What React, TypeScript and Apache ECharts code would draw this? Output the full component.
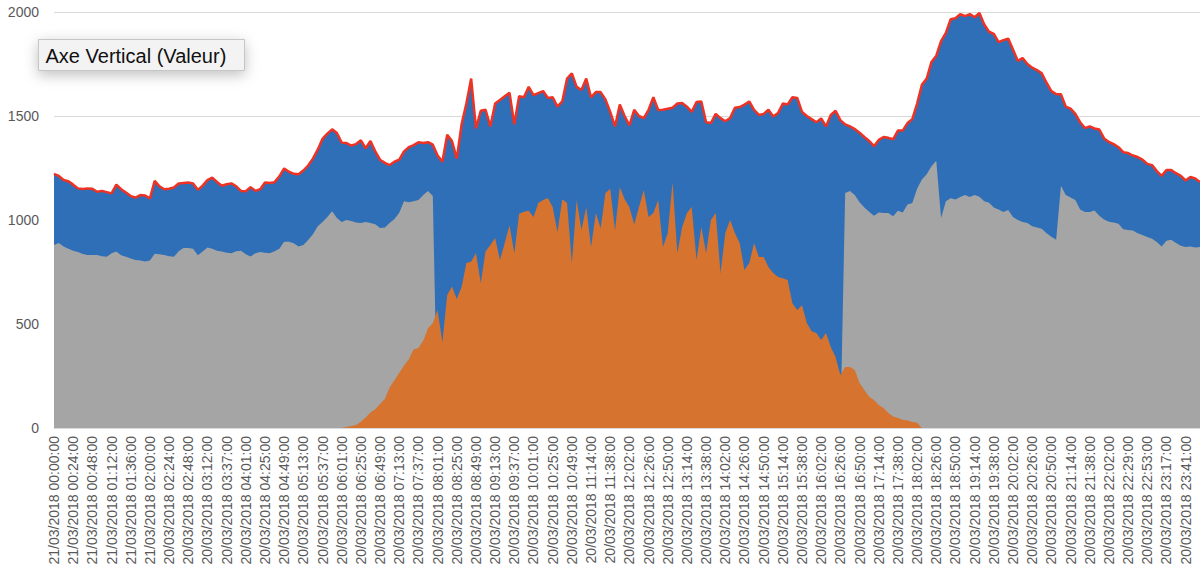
import React, { useEffect, useRef } from "react";
import * as echarts from "echarts";

// Tick labels shown on the category axis (one every 4 samples, 6-minute samples)
const tickLabels: string[] = [
  "21/03/2018 00:00:00", "21/03/2018 00:24:00", "21/03/2018 00:48:00", "21/03/2018 01:12:00",
  "21/03/2018 01:36:00", "21/03/2018 02:00:00", "20/03/2018 02:24:00", "20/03/2018 02:48:00",
  "20/03/2018 03:12:00", "20/03/2018 03:37:00", "20/03/2018 04:01:00", "20/03/2018 04:25:00",
  "20/03/2018 04:49:00", "20/03/2018 05:13:00", "20/03/2018 05:37:00", "20/03/2018 06:01:00",
  "20/03/2018 06:25:00", "20/03/2018 06:49:00", "20/03/2018 07:13:00", "20/03/2018 07:37:00",
  "20/03/2018 08:01:00", "20/03/2018 08:25:00", "20/03/2018 08:49:00", "20/03/2018 09:13:00",
  "20/03/2018 09:37:00", "20/03/2018 10:01:00", "20/03/2018 10:25:00", "20/03/2018 10:49:00",
  "20/03/2018 11:14:00", "20/03/2018 11:38:00", "20/03/2018 12:02:00", "20/03/2018 12:26:00",
  "20/03/2018 12:50:00", "20/03/2018 13:14:00", "20/03/2018 13:38:00", "20/03/2018 14:02:00",
  "20/03/2018 14:26:00", "20/03/2018 14:50:00", "20/03/2018 15:14:00", "20/03/2018 15:38:00",
  "20/03/2018 16:02:00", "20/03/2018 16:26:00", "20/03/2018 16:50:00", "20/03/2018 17:14:00",
  "20/03/2018 17:38:00", "20/03/2018 18:02:00", "20/03/2018 18:26:00", "20/03/2018 18:50:00",
  "20/03/2018 19:14:00", "20/03/2018 19:38:00", "20/03/2018 20:02:00", "20/03/2018 20:26:00",
  "20/03/2018 20:50:00", "20/03/2018 21:14:00", "20/03/2018 21:38:00", "20/03/2018 22:02:00",
  "20/03/2018 22:29:00", "20/03/2018 22:53:00", "20/03/2018 23:17:00", "20/03/2018 23:41:00",
];
const SUB_STEPS = 4; // samples per labelled tick
const TRAILING = 3; // samples after the last label

// Total (blue area + red line)
const totalValues: number[] = [
  1222, 1212, 1192, 1186, 1170, 1152, 1149, 1152, 1150, 1136,
  1140, 1134, 1128, 1170, 1148, 1132, 1115, 1108, 1120, 1118,
  1104, 1188, 1162, 1148, 1150, 1156, 1176, 1178, 1180, 1176,
  1145, 1165, 1192, 1204, 1183, 1165, 1172, 1176, 1162, 1140,
  1138, 1158, 1140, 1148, 1180, 1178, 1182, 1210, 1248, 1232,
  1222, 1220, 1238, 1262, 1295, 1338, 1390, 1415, 1436, 1418,
  1372, 1370, 1358, 1365, 1383, 1345, 1380, 1330, 1290, 1275,
  1264, 1280, 1290, 1330, 1350, 1360, 1374, 1370, 1374, 1362,
  1310, 1280, 1410, 1380, 1295, 1460, 1560, 1680, 1440, 1525,
  1530, 1450, 1560, 1577, 1595, 1612, 1460, 1595, 1590, 1640,
  1600, 1610, 1620, 1587, 1590, 1545, 1570, 1680, 1705, 1640,
  1625, 1680, 1590, 1615, 1615, 1580, 1520, 1450, 1555, 1500,
  1455, 1530, 1500, 1490, 1530, 1590, 1529, 1530, 1535, 1540,
  1560, 1562, 1545, 1520, 1567, 1570, 1470, 1466, 1510, 1490,
  1475, 1490, 1540, 1543, 1555, 1570, 1530, 1505, 1510, 1530,
  1498, 1514, 1560, 1555, 1590, 1587, 1520, 1500, 1485, 1470,
  1488, 1450, 1505, 1525, 1480, 1460, 1450, 1437, 1420, 1399,
  1380, 1355, 1385, 1399, 1395, 1388, 1430, 1430, 1466, 1485,
  1560, 1650, 1680, 1760, 1790, 1860, 1900, 1965, 1970, 1990,
  1980, 1990, 1975, 1995, 1940, 1905, 1895, 1855, 1865, 1872,
  1820, 1765, 1779, 1750, 1732, 1721, 1705, 1660, 1620, 1605,
  1605, 1545, 1535, 1510, 1470, 1442, 1450, 1440, 1435, 1392,
  1375, 1365, 1350, 1326, 1322, 1310, 1303, 1290, 1270, 1264,
  1235, 1212, 1240, 1240, 1225, 1212, 1190, 1207, 1200, 1183,
];

// Gray series
const grayValues: number[] = [
  880, 889, 872, 862, 852, 846, 836, 832, 832, 832,
  826, 823, 840, 848, 830, 823, 815, 808, 805, 800,
  805, 838, 835, 832, 826, 823, 850, 865, 865, 862,
  830, 848, 868, 862, 852, 848, 843, 840, 850, 852,
  835, 825, 840, 846, 842, 840, 850, 862, 895, 895,
  888, 872, 880, 904, 932, 970, 990, 1015, 1042, 1010,
  990, 1000, 995, 988, 985, 990, 985, 980, 961, 964,
  985, 1005, 1035, 1090, 1085, 1090, 1096, 1120, 1140, 1115,
  0, 0, 0, 0, 0, 0, 0, 0, 0, 0,
  0, 0, 0, 0, 0, 0, 0, 0, 0, 0,
  0, 0, 0, 0, 0, 0, 0, 0, 0, 0,
  0, 0, 0, 0, 0, 0, 0, 0, 0, 0,
  0, 0, 0, 0, 0, 0, 0, 0, 0, 0,
  0, 0, 0, 0, 0, 0, 0, 0, 0, 0,
  0, 0, 0, 0, 0, 0, 0, 0, 0, 0,
  0, 0, 0, 0, 0, 0, 0, 0, 0, 0,
  0, 0, 0, 0, 0, 1130, 1140, 1120, 1085, 1060,
  1040, 1020, 1036, 1034, 1034, 1018, 1045, 1036, 1075, 1082,
  1150, 1195, 1220, 1258, 1285, 1010, 1090, 1104, 1098, 1110,
  1120, 1110, 1120, 1112, 1090, 1083, 1060, 1050, 1038, 1048,
  1015, 1000, 990, 986, 970, 964, 958, 936, 920, 905,
  1165, 1120, 1108, 1096, 1050, 1038, 1038, 1046, 1020, 1002,
  992, 988, 982, 955, 952, 950, 936, 928, 918, 910,
  894, 872, 900, 905, 890, 876, 870, 872, 868, 870,
];

// Orange series
const orangeValues: number[] = [
  0, 0, 0, 0, 0, 0, 0, 0, 0, 0,
  0, 0, 0, 0, 0, 0, 0, 0, 0, 0,
  0, 0, 0, 0, 0, 0, 0, 0, 0, 0,
  0, 0, 0, 0, 0, 0, 0, 0, 0, 0,
  0, 0, 0, 0, 0, 0, 0, 0, 0, 0,
  0, 0, 0, 0, 0, 0, 0, 0, 0, 0,
  0, 5, 10, 14, 30, 50, 75, 90, 115, 140,
  195, 230, 265, 300, 330, 378, 385, 420, 480, 505,
  567, 414, 640, 680, 620, 678, 793, 800, 841, 697,
  850, 880, 913, 808, 889, 975, 840, 1030, 1040, 1045,
  1015, 1082, 1096, 1106, 1063, 942, 1100, 1082, 793, 1096,
  952, 1063, 870, 1034, 960, 1130, 1150, 952, 1159, 1100,
  1063, 980, 1063, 1144, 1015, 1034, 1096, 870, 937, 1183,
  841, 966, 1034, 1063, 808, 966, 841, 1000, 1034, 745,
  937, 1000, 937, 889, 760, 793, 889, 822, 822, 774,
  745, 726, 720, 711, 600, 567, 590, 505, 465, 457,
  423, 457, 389, 341, 255, 293, 293, 279, 216, 183,
  150, 135, 111, 96, 72, 55, 48, 40, 36, 29,
  25, 0, 0, 0, 0, 0, 0, 0, 0, 0,
  0, 0, 0, 0, 0, 0, 0, 0, 0, 0,
  0, 0, 0, 0, 0, 0, 0, 0, 0, 0,
  0, 0, 0, 0, 0, 0, 0, 0, 0, 0,
  0, 0, 0, 0, 0, 0, 0, 0, 0, 0,
  0, 0, 0, 0, 0, 0, 0, 0, 0, 0,
];

const yTicks = { min: 0, max: 2000, interval: 500 };

function addMinutes(label: string, mins: number): string {
  const [d, t] = label.split(" ");
  const [h, m, s] = t.split(":").map(Number);
  const total = h * 60 + m + mins;
  const hh = String(Math.floor(total / 60) % 24).padStart(2, "0");
  const mm = String(total % 60).padStart(2, "0");
  return `${d} ${hh}:${mm}:${String(s).padStart(2, "0")}`;
}

function buildCategories(): string[] {
  const cats: string[] = [];
  tickLabels.forEach((lab, k) => {
    cats.push(lab);
    if (k < tickLabels.length - 1) {
      for (let j = 1; j < SUB_STEPS; j++) cats.push(addMinutes(lab, j * 6));
    } else {
      for (let j = 1; j <= TRAILING; j++) cats.push(addMinutes(lab, j * 6));
    }
  });
  return cats;
}

export default function App() {
  const ref = useRef<HTMLDivElement>(null);
  useEffect(() => {
    if (!ref.current) return;
    const chart = echarts.init(ref.current, null, { renderer: "svg" });
    const categories = buildCategories();
    const areaSeries = (name: string, data: number[], color: string) => ({
      name,
      type: "line",
      data,
      symbol: "none",
      showSymbol: false,
      lineStyle: { width: 0, color },
      itemStyle: { color },
      areaStyle: { color, opacity: 1 },
      emphasis: { disabled: true },
    });
    chart.setOption({
      animation: false,
      backgroundColor: "#ffffff",
      textStyle: { fontFamily: "Liberation Sans" },
      grid: { left: 54, right: 0, top: 12, bottom: 150, containLabel: false },
      xAxis: {
        type: "category",
        data: categories,
        boundaryGap: false,
        axisLine: { show: true, lineStyle: { color: "#d9d9d9", width: 1 } },
        axisTick: { show: false },
        splitLine: { show: false },
        axisLabel: {
          rotate: 90,
          interval: (index: number) => index % SUB_STEPS === 0,
          color: "#595959",
          fontSize: 14,
          fontFamily: "Liberation Sans",
          margin: 8,
        },
      },
      yAxis: {
        type: "value",
        min: yTicks.min,
        max: yTicks.max,
        interval: yTicks.interval,
        axisLine: { show: false },
        axisTick: { show: false },
        splitLine: { show: true, lineStyle: { color: "#d9d9d9", width: 1 } },
        axisLabel: {
          color: "#595959",
          fontSize: 14,
          fontFamily: "Liberation Sans",
          margin: 15,
          formatter: (v: number) => String(v),
        },
      },
      series: [
        areaSeries("Total", totalValues, "#2e6fb7"),
        areaSeries("Gris", grayValues, "#a5a5a5"),
        areaSeries("Orange", orangeValues, "#d5732f"),
        {
          name: "Total ligne",
          type: "line",
          data: totalValues,
          symbol: "none",
          showSymbol: false,
          lineStyle: { width: 2.5, color: "#ee3324" },
          emphasis: { disabled: true },
        },
      ],
      graphic: [
        {
          type: "group",
          left: 38,
          top: 39,
          children: [
            {
              type: "rect",
              shape: { x: 0, y: 0, width: 206, height: 31 },
              style: {
                fill: "#f3f3f3",
                stroke: "#c6c6c6",
                lineWidth: 1,
                shadowBlur: 14,
                shadowOffsetY: 4,
                shadowColor: "rgba(0,0,0,0.25)",
              },
            },
            {
              type: "text",
              x: 7,
              y: 16,
              style: {
                text: "Axe Vertical (Valeur)",
                fill: "#111111",
                fontSize: 20,
                fontFamily: "Liberation Sans",
                verticalAlign: "middle",
                align: "left",
              },
            },
          ],
        },
      ],
    });
    return () => chart.dispose();
  }, []);
  return (
    <div
      ref={ref}
      style={{ position: "fixed", left: 0, top: 0, width: 1200, height: 578 }}
    />
  );
}
